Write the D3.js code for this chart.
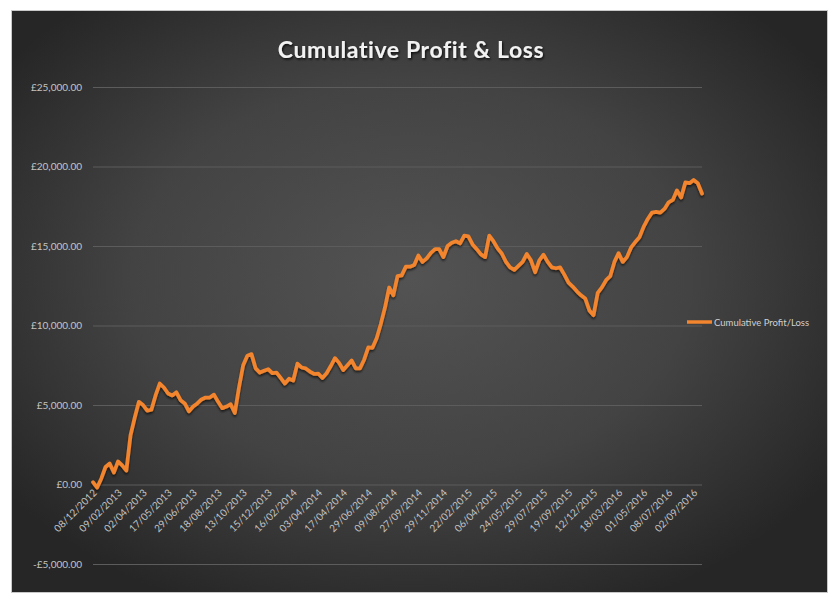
<!DOCTYPE html>
<html>
<head>
<meta charset="utf-8">
<script src="https://cdn.jsdelivr.net/npm/d3@7"></script>
<style>
  html, body { margin: 0; padding: 0; background: #ffffff; }
  svg { display: block; font-family: Lato, "Open Sans", sans-serif; }
</style>
</head>
<body>
<svg id="chart" width="840" height="616"></svg>
<script>
// ---- Data ----
const title = "Cumulative Profit & Loss";
const seriesName = "Cumulative Profit/Loss";
const tickLabels = [
  "08/12/2012","09/02/2013","02/04/2013","17/05/2013","29/06/2013","18/08/2013",
  "13/10/2013","15/12/2013","16/02/2014","03/04/2014","17/04/2014","29/06/2014",
  "09/08/2014","27/09/2014","29/11/2014","22/02/2015","06/04/2015","24/05/2015",
  "29/07/2015","19/09/2015","12/12/2015","18/03/2016","01/05/2016","08/07/2016",
  "02/09/2016"
];
const labelEvery = 6;
const profitLoss = [
  150, -190, 380, 1100, 1320, 750, 1450, 1200, 880, 3100,
  4200, 5200, 5000, 4650, 4700, 5600, 6350, 6100, 5720, 5600,
  5800, 5300, 5100, 4600, 4900, 5100, 5350, 5470, 5470, 5650,
  5200, 4800, 4900, 5050, 4500, 6100, 7500, 8100, 8200, 7300,
  7040, 7150, 7250, 7000, 7040, 6700, 6350, 6650, 6540, 7600,
  7360, 7300, 7100, 6950, 6980, 6700, 7000, 7450, 7950, 7650,
  7200, 7500, 7800, 7300, 7300, 7850, 8620, 8600, 9200, 10100,
  11130, 12390, 11900, 13100, 13150, 13700, 13700, 13800, 14400, 14000,
  14220, 14570, 14800, 14800, 14300, 15000, 15200, 15300, 15160, 15650,
  15600, 15100, 14800, 14470, 14300, 15650, 15300, 14850, 14530, 14000,
  13650, 13500, 13750, 14000, 14500, 14100, 13350, 14100, 14450, 14000,
  13650, 13600, 13650, 13200, 12700, 12450, 12150, 11900, 11700, 10950,
  10650, 12050, 12400, 12850, 13100, 14000, 14550, 14000, 14300, 14910,
  15250, 15550, 16200, 16700, 17100, 17150, 17100, 17330, 17750, 17900,
  18500, 18050, 19000, 18950, 19150, 18950, 18300
];
const yTicks = [-5000, 0, 5000, 10000, 15000, 20000, 25000];

// ---- Drawing ----
const svg = d3.select("#chart");
const defs = svg.append("defs");

const grad = defs.append("radialGradient")
  .attr("id", "bg").attr("cx", "49%").attr("cy", "46%").attr("r", "62%");
grad.append("stop").attr("offset", "0%").attr("stop-color", "#535353");
grad.append("stop").attr("offset", "55%").attr("stop-color", "#434343");
grad.append("stop").attr("offset", "100%").attr("stop-color", "#262626");

const shadow = defs.append("filter").attr("id", "shadow")
  .attr("x", "-5%").attr("y", "-5%").attr("width", "110%").attr("height", "120%");
shadow.append("feDropShadow").attr("dx", 0).attr("dy", 2).attr("stdDeviation", 1.2)
  .attr("flood-color", "#000").attr("flood-opacity", 0.6);

const tshadow = defs.append("filter").attr("id", "tshadow");
tshadow.append("feDropShadow").attr("dx", 1).attr("dy", 1.5).attr("stdDeviation", 1)
  .attr("flood-color", "#000").attr("flood-opacity", 0.8);

svg.append("rect").attr("x", 11.5).attr("y", 10.5).attr("width", 816).attr("height", 582)
  .attr("fill", "url(#bg)").attr("stroke", "#c8c8c8").attr("stroke-width", 1);

const left = 93, right = 702;
const x = d3.scalePoint().domain(d3.range(profitLoss.length)).range([left, right]);
const y = d3.scaleLinear().domain([-5000, 25000]).range([564, 87]);

const fmt = d3.format(",.2f");
const money = v => (v < 0 ? "-£" : "£") + fmt(Math.abs(v));

// Y axis with gridlines
const yAxis = svg.append("g").attr("transform", `translate(${left},0)`)
  .call(d3.axisLeft(y).tickValues(yTicks).tickSize(-(right - left)).tickPadding(11).tickFormat(money));
yAxis.select(".domain").remove();
yAxis.selectAll(".tick line").attr("stroke", "#5c5c5c").attr("stroke-width", 1);
yAxis.selectAll(".tick text").attr("fill", "#c4c4c4").style("font-size", "10px")
  .style("font-family", "Lato, sans-serif");

// X axis (category labels)
const labelIdx = tickLabels.map((d, i) => i * labelEvery);
const xAxis = svg.append("g").attr("transform", `translate(0,${y(0)})`)
  .call(d3.axisBottom(x).tickValues(labelIdx).tickSize(0)
    .tickFormat(i => tickLabels[i / labelEvery]));
xAxis.select(".domain").remove();
xAxis.selectAll(".tick text")
  .attr("fill", "#c4c4c4").style("font-size", "10px").style("font-family", "Lato, sans-serif")
  .attr("text-anchor", "end").attr("x", 0).attr("y", 0).attr("dy", 0)
  .attr("transform", "translate(4,9) rotate(-45)");

// Line
const line = d3.line().x((d, i) => x(i)).y(d => y(d));
svg.append("path").datum(profitLoss)
  .attr("d", line).attr("fill", "none")
  .attr("stroke", "#f2852e").attr("stroke-width", 3.75)
  .attr("stroke-linejoin", "round").attr("stroke-linecap", "round")
  .attr("filter", "url(#shadow)");

// Title
svg.append("text").attr("x", 411).attr("y", 58).attr("text-anchor", "middle")
  .attr("fill", "#f2f2f2").style("font-size", "23px").style("font-weight", "bold")
  .style("letter-spacing", "0.6px")
  .style("font-family", "Lato, sans-serif").attr("filter", "url(#tshadow)")
  .text(title);

// Legend
const lg = svg.append("g").attr("transform", "translate(687,322)");
lg.append("line").attr("x1", 0).attr("x2", 25).attr("y1", 0).attr("y2", 0)
  .attr("stroke", "#f2852e").attr("stroke-width", 3.5);
lg.append("text").attr("x", 27).attr("y", 3.5).attr("fill", "#d0d0d0")
  .style("font-size", "9.5px").style("font-family", "Lato, sans-serif").text(seriesName);
</script>
</body>
</html>
